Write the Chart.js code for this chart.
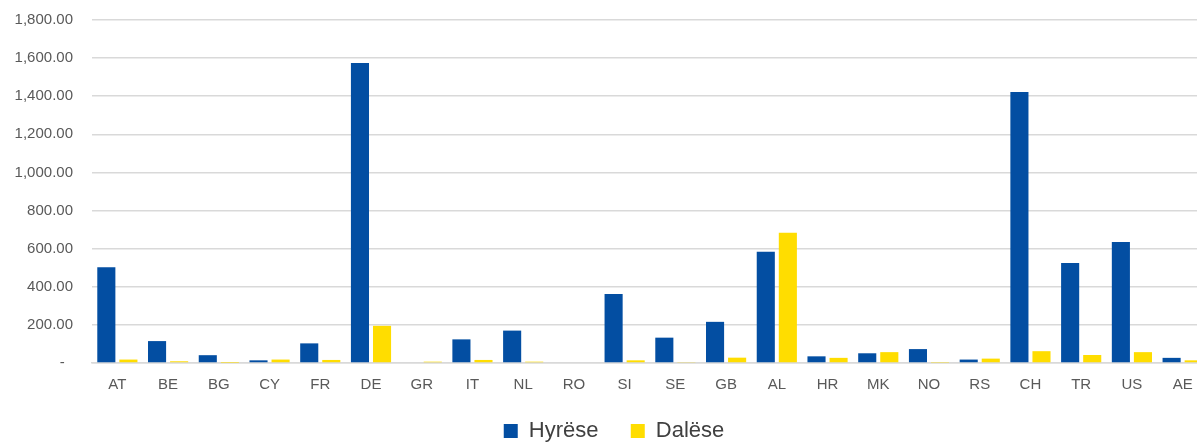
<!DOCTYPE html>
<html>
<head>
<meta charset="utf-8">
<script src="https://cdn.jsdelivr.net/npm/chart.js@4/dist/chart.umd.min.js"></script>
<style>
  html, body { margin: 0; padding: 0; background: #ffffff; overflow: hidden; }
  #wrap { position: absolute; left: 0; top: -8px; width: 1229px; height: 460px; }
</style>
</head>
<body>
<div id="wrap"><canvas id="c"></canvas></div>
<script>
const categories = ['AT','BE','BG','CY','FR','DE','GR','IT','NL','RO','SI','SE','GB','AL','HR','MK','NO','RS','CH','TR','US','AE'];
const hyrese = [502, 115, 41, 14, 103, 1575, 4, 124, 170, 0, 362, 133, 216, 584, 35, 51, 73, 18, 1422, 525, 635, 27];
const dalese = [18, 9, 1, 18, 16, 195, 7, 16, 7, 0, 14, 5, 28, 683, 27, 57, 2, 23, 62, 42, 57, 14];
const seriesNames = ['Hyrëse', 'Dalëse'];
const yTickLabels = ['-', '200.00', '400.00', '600.00', '800.00', '1,000.00', '1,200.00', '1,400.00', '1,600.00', '1,800.00'];

const FONT = "'Liberation Sans', Arial, sans-serif";

const legendShift = {
  id: 'legendShift',
  afterLayout(chart) {
    if (chart.legend) { chart.legend.left += 10; chart.legend.right += 10; }
  }
};

new Chart(document.getElementById('c'), {
  type: 'bar',
  data: {
    labels: categories,
    datasets: [
      { label: seriesNames[0], data: hyrese, backgroundColor: '#034EA2', borderWidth: 0 },
      { label: seriesNames[1], data: dalese, backgroundColor: '#FFDD00', borderWidth: 0 }
    ]
  },
  plugins: [legendShift],
  options: {
    responsive: true,
    maintainAspectRatio: false,
    animation: false,
    devicePixelRatio: 1,
    layout: { padding: { left: 0, right: 21, top: 3, bottom: 0 } },
    datasets: { bar: { categoryPercentage: 0.87, barPercentage: 0.82 } },
    scales: {
      x: {
        grid: { display: false, drawTicks: false },
        border: { display: true, color: '#D9D9D9', width: 1.5 },
        ticks: { color: '#595959', font: { family: FONT, size: 15 }, padding: 13, maxRotation: 0, autoSkip: false },
        afterFit: (s) => { s.height = 43; }
      },
      y: {
        min: 0, max: 1800,
        grid: { color: '#D9D9D9', lineWidth: 1.5, drawTicks: false },
        border: { display: false },
        ticks: {
          stepSize: 200,
          color: '#595959',
          font: { family: FONT, size: 15 },
          padding: 19,
          callback: (v, i) => (i === 0 ? yTickLabels[i] + '  ' : yTickLabels[i])
        },
        afterFit: (s) => { s.width = 92; }
      }
    },
    plugins: {
      tooltip: { enabled: false },
      legend: {
        position: 'bottom',
        labels: {
          color: '#404040',
          font: { family: FONT, size: 22 },
          boxWidth: 14,
          boxHeight: 14,
          padding: 14,
          generateLabels: (chart) => {
            const items = Chart.defaults.plugins.legend.labels.generateLabels(chart);
            items.forEach((it, i) => { if (i === 0) it.text = it.text + '   '; it.lineWidth = 0; });
            return items;
          }
        }
      }
    }
  }
});
</script>
</body>
</html>
